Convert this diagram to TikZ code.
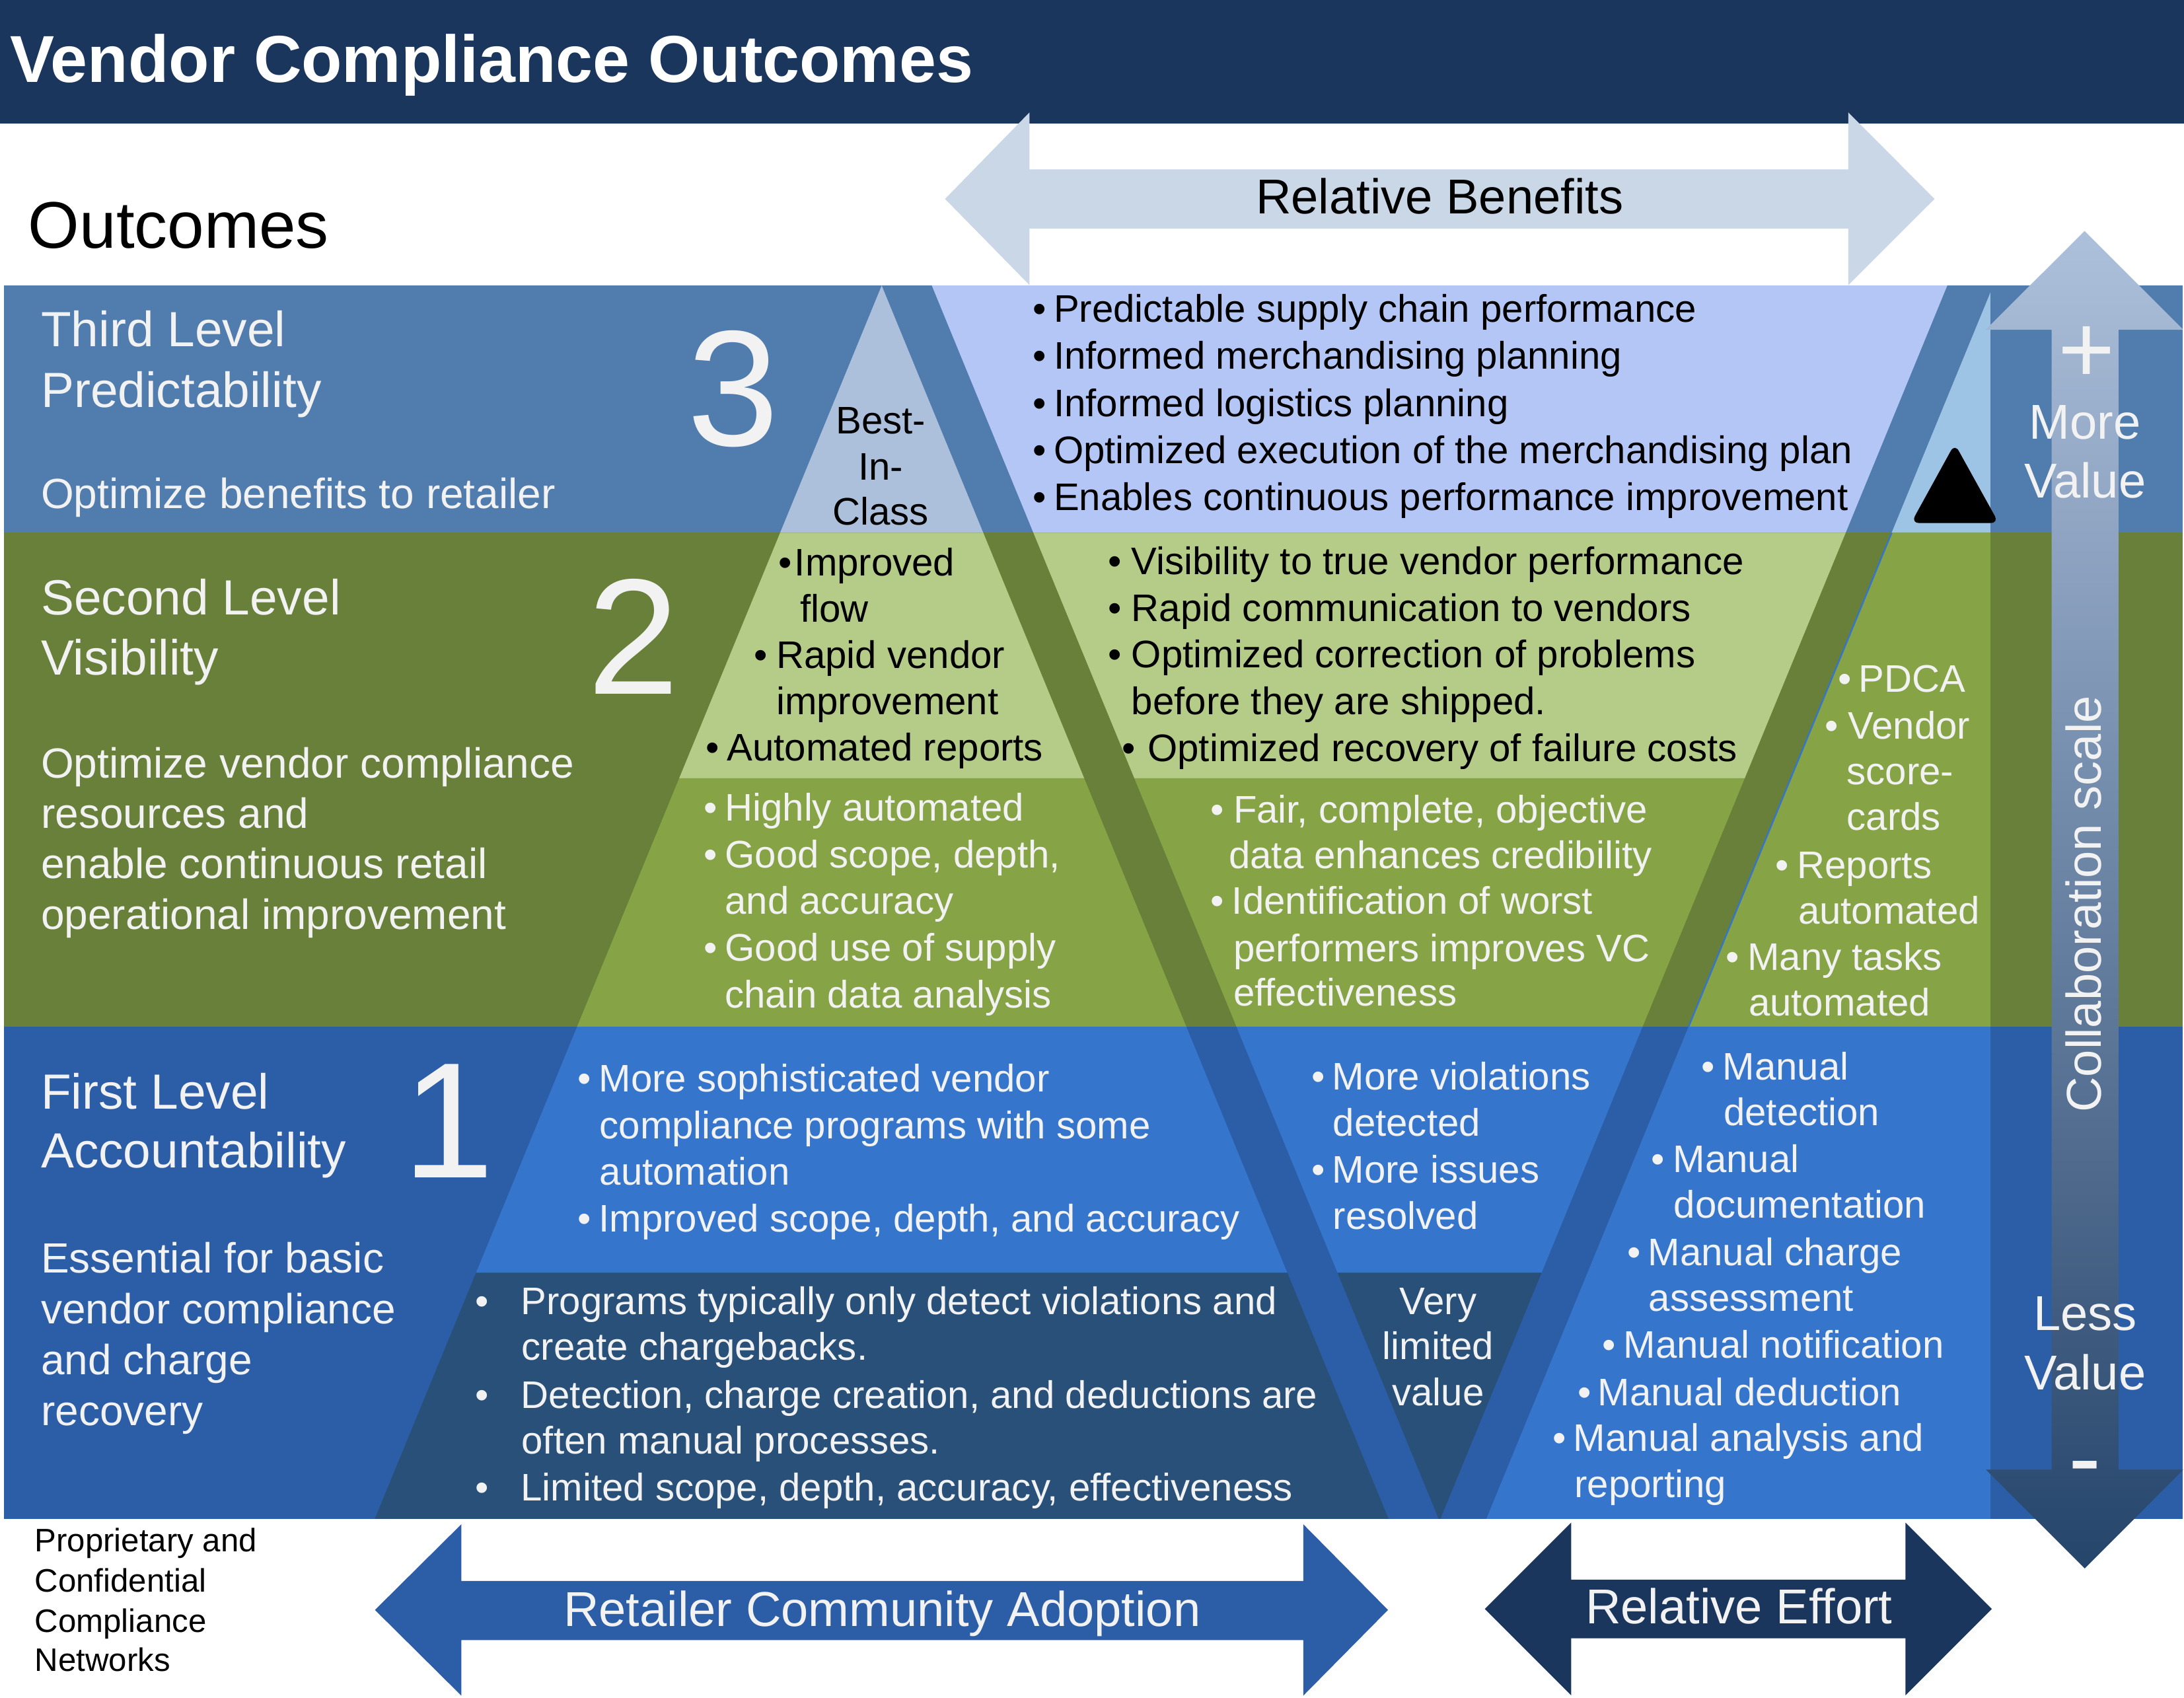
\documentclass[tikz,border=0pt]{standalone}
\usepackage{fontspec}
\setmainfont{Liberation Sans}
\definecolor{hdr}{HTML}{1B365D}
\definecolor{bandC}{HTML}{507CAE}
\definecolor{bandB}{HTML}{68803A}
\definecolor{bandA}{HTML}{2B5EA6}
\definecolor{pyrC}{HTML}{ADC0DB}
\definecolor{purp}{HTML}{B3C6F5}
\definecolor{sky}{HTML}{9DC3E5}
\definecolor{lgreen}{HTML}{B5CB88}
\definecolor{mgreen}{HTML}{86A346}
\definecolor{mblue}{HTML}{3576CC}
\definecolor{dkblue}{HTML}{285078}
\definecolor{relben}{HTML}{C9D7E7}
\definecolor{colTop}{HTML}{ADC0DB}
\definecolor{colBot}{HTML}{26456B}
\definecolor{wt}{HTML}{F2F2F2}
\newcommand\fBody{\fontsize{16.55}{19}\selectfont}
\newcommand\fHead{\fontsize{21.3}{25}\selectfont}
\newcommand\fArr{\fontsize{21.1}{25}\selectfont}
\newcommand\fLeft{\fontsize{18.2}{21}\selectfont}
\newcommand\fNum{\fontsize{71}{80}\selectfont}
\newcommand\fPM{\fontsize{42}{48}\selectfont}
\newcommand\fSmall{\fontsize{14}{17}\selectfont}
\newcommand\fTitle{\fontsize{28.6}{32}\selectfont\bfseries}
\newcommand\fOut{\fontsize{28.4}{32}\selectfont}
\newcounter{tn}
\newcommand\Tx[4]{\stepcounter{tn}\node[#1] (t\arabic{tn}) at (#2,#3) {#4};}
\newcommand\Bu[3]{\Tx{#1}{#2}{#3}{\textbullet}}
\begin{document}
\begin{tikzpicture}[x=0.0210842cm,y=-0.0210842cm,
  tb/.style={inner sep=0pt,outer sep=0pt,anchor=base west,font=\fBody},
  tbw/.style={tb,text=wt},
  bl/.style={inner sep=0pt,outer sep=0pt,anchor=base,font=\fBody},
  blw/.style={bl,text=wt},
  hd/.style={inner sep=0pt,outer sep=0pt,anchor=base west,font=\fHead,text=wt},
  lb/.style={inner sep=0pt,outer sep=0pt,anchor=base west,font=\fLeft,text=wt},
  num/.style={inner sep=0pt,outer sep=0pt,anchor=base,font=\fNum,text=wt},
  big/.style={inner sep=0pt,outer sep=0pt,anchor=base,font=\fArr},
  pm/.style={inner sep=0pt,outer sep=0pt,anchor=base,font=\fPM,text=wt},
  sm/.style={inner sep=0pt,outer sep=0pt,anchor=base west,font=\fSmall}]
\useasboundingbox (0,0) rectangle (1568,1218.45);
\fill[white] (0,0) rectangle (1568,1218.45);
% header
\fill[hdr] (0,0) rectangle (1568,88.5);
% bands
\fill[bandC] (3,205) rectangle (1567,382.4);
\fill[bandB] (3,382.4) rectangle (1567,737);
\fill[bandA] (3,737) rectangle (1567,1090.3);
% pyramid
\fill[pyrC] (633,205) -- (705.9,382.4) -- (560.1,382.4) -- cycle;
\fill[lgreen] (560.1,382.4) -- (705.9,382.4) -- (778.4,558.7) -- (487.6,558.7) -- cycle;
\fill[mgreen] (487.6,558.7) -- (778.4,558.7) -- (851.7,737) -- (414.3,737) -- cycle;
\fill[mblue] (414.3,737) -- (851.7,737) -- (924.2,913.6) -- (341.8,913.6) -- cycle;
\fill[dkblue] (341.8,913.6) -- (924.2,913.6) -- (996.9,1090.3) -- (269.1,1090.3) -- cycle;
% V
\fill[purp] (669,205) -- (1398,205) -- (1325.1,382.4) -- (741.9,382.4) -- cycle;
\fill[lgreen] (741.9,382.4) -- (1325.1,382.4) -- (1252.6,558.7) -- (814.4,558.7) -- cycle;
\fill[mgreen] (814.4,558.7) -- (1252.6,558.7) -- (1179.3,737) -- (887.7,737) -- cycle;
\fill[mblue] (887.7,737) -- (1179.3,737) -- (1106.8,913.6) -- (960.2,913.6) -- cycle;
\fill[dkblue] (960.2,913.6) -- (1106.8,913.6) -- (1034.1,1090.3) -- (1032.9,1090.3) -- cycle;
% right region
\fill[sky] (1429,209.9) -- (1429,382.4) -- (1358.1,382.4) -- cycle;
\fill[mgreen] (1358.1,382.4) -- (1429,382.4) -- (1429,737) -- (1212.3,737) -- cycle;
\fill[mblue] (1212.3,737) -- (1429,737) -- (1429,1090.3) -- (1067.1,1090.3) -- cycle;
\draw[mblue,line width=0.7pt] (1358.1,382.4) -- (1212.3,737);
% relative benefits arrow
\fill[relben] (678.5,142.8) -- (739.1,80.7) -- (739.1,121.6) -- (1327,121.6) -- (1327,80.7) -- (1388.9,142.8) -- (1327,204.6) -- (1327,164) -- (739.1,164) -- (739.1,204.6) -- cycle;
% collaboration arrow
\shade[top color=colTop,bottom color=colBot] (1496.6,165.8) -- (1567.5,236.7) -- (1521,236.7) -- (1521,1055) -- (1567.5,1055) -- (1496.7,1125.9) -- (1425.8,1055) -- (1473,1055) -- (1473,236.7) -- (1425.6,236.7) -- cycle;
% bottom arrows
\fill[bandA] (269.2,1155.7) -- (331.2,1094.2) -- (331.2,1134.9) -- (935.7,1134.9) -- (935.7,1094.2) -- (996.5,1155.7) -- (935.7,1217.2) -- (935.7,1177.3) -- (331.2,1177.3) -- (331.2,1217.2) -- cycle;
\fill[hdr] (1066,1155) -- (1128,1093) -- (1128,1134) -- (1368,1134) -- (1368,1093) -- (1430,1155) -- (1368,1217) -- (1368,1176) -- (1128,1176) -- (1128,1217) -- cycle;
% black triangle
\fill[black,rounded corners=3.5pt] (1403.4,318.5) -- (1435,375.5) -- (1372,375.5) -- cycle;

% ---- texts ----
\Tx{inner sep=0pt,anchor=base west,font=\fTitle,text=white}{7}{59}{Vendor Compliance Outcomes}
\Tx{inner sep=0pt,anchor=base west,font=\fOut}{20}{178}{Outcomes}
\Tx{big}{1033.6}{153.6}{Relative Benefits}
\Tx{big,text=wt}{633.3}{1167.5}{Retailer Community Adoption}
\Tx{big,text=wt}{1248.5}{1165.7}{Relative Effort}
\Tx{sm}{25}{1114}{Proprietary and}
\Tx{sm}{25}{1142.8}{Confidential}
\Tx{sm}{25}{1171.5}{Compliance}
\Tx{sm}{25}{1199.5}{Networks}
% left column
\Tx{hd}{29.5}{248.8}{Third Level}
\Tx{hd}{29.5}{292.5}{Predictability}
\Tx{lb}{29.5}{365}{Optimize benefits to retailer}
\Tx{hd}{29.5}{441.5}{Second Level}
\Tx{hd}{29.5}{484.5}{Visibility}
\Tx{lb}{29.5}{558.7}{Optimize vendor compliance}
\Tx{lb}{29.5}{594.7}{resources and}
\Tx{lb}{29.5}{630.7}{enable continuous retail}
\Tx{lb}{29.5}{667.2}{operational improvement}
\Tx{hd}{29.5}{796.1}{First Level}
\Tx{hd}{29.5}{838.5}{Accountability}
\Tx{lb}{29.5}{913.7}{Essential for basic}
\Tx{lb}{29.5}{950.2}{vendor compliance}
\Tx{lb}{29.5}{986.7}{and charge}
\Tx{lb}{29.5}{1023.2}{recovery}
% numbers
\Tx{num}{526.5}{320}{3}
\Tx{num}{455}{498}{2}
\Tx{num}{322}{845.5}{1}
% band 3 V
\Bu{bl}{746.5}{231.1}\Tx{tb}{756.5}{231.1}{Predictable supply chain performance}
\Bu{bl}{746.5}{264.9}\Tx{tb}{756.5}{264.9}{Informed merchandising planning}
\Bu{bl}{746.5}{298.8}\Tx{tb}{756.5}{298.8}{Informed logistics planning}
\Bu{bl}{746.5}{332.7}\Tx{tb}{756.5}{332.7}{Optimized execution of the merchandising plan}
\Bu{bl}{746.5}{366.3}\Tx{tb}{756.5}{366.3}{Enables continuous performance improvement}
% best in class
\Tx{bl}{632.4}{311.2}{Best-}
\Tx{bl}{632.4}{344.5}{In-}
\Tx{bl}{632.4}{376.7}{Class}
% band 2 pyramid upper
\Bu{bl}{563.8}{413.5}\Tx{tb}{570.5}{413.5}{Improved}
\Tx{tb}{574.5}{446.7}{flow}
\Bu{bl}{546}{479.9}\Tx{tb}{557.4}{479.9}{Rapid vendor}
\Tx{tb}{557.4}{513.1}{improvement}
\Bu{bl}{511.6}{546.3}\Tx{tb}{522}{546.3}{Automated reports}
% band 2 V upper
\Bu{bl}{800.6}{412.4}\Tx{tb}{812.4}{412.4}{Visibility to true vendor performance}
\Bu{bl}{800.6}{445.9}\Tx{tb}{812.4}{445.9}{Rapid communication to vendors}
\Bu{bl}{800.6}{479.4}\Tx{tb}{812.4}{479.4}{Optimized correction of problems}
\Tx{tb}{812.4}{512.9}{before they are shipped.}
\Bu{bl}{810.6}{546.4}\Tx{tb}{824}{546.4}{Optimized recovery of failure costs}
% band 2 pyramid lower
\Bu{blw}{510}{589.3}\Tx{tbw}{520.5}{589.3}{Highly automated}
\Bu{blw}{510}{622.8}\Tx{tbw}{520.5}{622.8}{Good scope, depth,}
\Tx{tbw}{520.5}{656.3}{and accuracy}
\Bu{blw}{510}{689.8}\Tx{tbw}{520.5}{689.8}{Good use of supply}
\Tx{tbw}{520.5}{723.3}{chain data analysis}
% band 2 V lower
\Bu{blw}{873.8}{590.5}\Tx{tbw}{885.5}{590.5}{Fair, complete, objective}
\Tx{tbw}{882.3}{623.4}{data enhances credibility}
\Bu{blw}{873.8}{656.3}\Tx{tbw}{884.5}{656.3}{Identification of worst}
\Tx{tbw}{885.5}{690.3}{performers improves VC}
\Tx{tbw}{885.5}{722.1}{effectiveness}
% band 2 right region
\Bu{blw}{1324.6}{496.9}\Tx{tbw}{1334.6}{496.9}{PDCA}
\Bu{blw}{1315.2}{530.3}\Tx{tbw}{1327}{530.3}{Vendor}
\Tx{tbw}{1326}{563.1}{score-}
\Tx{tbw}{1326}{596}{cards}
\Bu{blw}{1279.6}{630.7}\Tx{tbw}{1290.3}{630.7}{Reports}
\Tx{tbw}{1291}{663.5}{automated}
\Bu{blw}{1244}{696.3}\Tx{tbw}{1254.6}{696.3}{Many tasks}
\Tx{tbw}{1255.5}{729.1}{automated}
% band 1 pyramid upper
\Bu{blw}{419.5}{783.8}\Tx{tbw}{430}{783.8}{More sophisticated vendor}
\Tx{tbw}{430.5}{817.3}{compliance programs with some}
\Tx{tbw}{430.5}{850.8}{automation}
\Bu{blw}{419.5}{884.3}\Tx{tbw}{430}{884.3}{Improved scope, depth, and accuracy}
% band 1 V upper
\Bu{blw}{946.6}{782.3}\Tx{tbw}{956.5}{782.3}{More violations}
\Tx{tbw}{957}{815.7}{detected}
\Bu{blw}{946.6}{849.2}\Tx{tbw}{956.5}{849.2}{More issues}
\Tx{tbw}{957}{882.6}{resolved}
% band 1 pyramid lower
\Bu{blw}{346.3}{943.6}\Tx{tbw}{374}{943.6}{Programs typically only detect violations and}
\Tx{tbw}{374.5}{976.3}{create chargebacks.}
\Bu{blw}{346.3}{1011}\Tx{tbw}{374}{1011}{Detection, charge creation, and deductions are}
\Tx{tbw}{374.5}{1043.7}{often manual processes.}
\Bu{blw}{346.3}{1077.4}\Tx{tbw}{374}{1077.4}{Limited scope, depth, accuracy, effectiveness}
% band 1 V lower
\Tx{blw}{1032.5}{943.6}{Very}
\Tx{blw}{1032.5}{975.7}{limited}
\Tx{blw}{1032.5}{1009.1}{value}
% band 1 right region
\Bu{blw}{1226.5}{775}\Tx{tbw}{1236.8}{775}{Manual}
\Tx{tbw}{1237.5}{807.8}{detection}
\Bu{blw}{1190.5}{841.7}\Tx{tbw}{1201.2}{841.7}{Manual}
\Tx{tbw}{1201.7}{874.5}{documentation}
\Bu{blw}{1173.2}{908.4}\Tx{tbw}{1183.2}{908.4}{Manual charge}
\Tx{tbw}{1183.7}{941.2}{assessment}
\Bu{blw}{1155.2}{975.1}\Tx{tbw}{1165.7}{975.1}{Manual notification}
\Bu{blw}{1137.6}{1009}\Tx{tbw}{1147.2}{1009}{Manual deduction}
\Bu{blw}{1119.6}{1041.8}\Tx{tbw}{1129.7}{1041.8}{Manual analysis and}
\Tx{tbw}{1130.5}{1075}{reporting}
% collaboration scale
\Tx{pm}{1498.2}{275}{+}
\Tx{big,text=wt}{1497}{315.2}{More}
\Tx{big,text=wt}{1497}{357.4}{Value}
\Tx{big,text=wt,rotate=90}{1508.5}{649}{Collaboration scale}
\Tx{big,text=wt}{1497}{955.2}{Less}
\Tx{big,text=wt}{1497}{997.5}{Value}
\Tx{pm}{1496.7}{1070}{-}
\end{tikzpicture}
\end{document}
